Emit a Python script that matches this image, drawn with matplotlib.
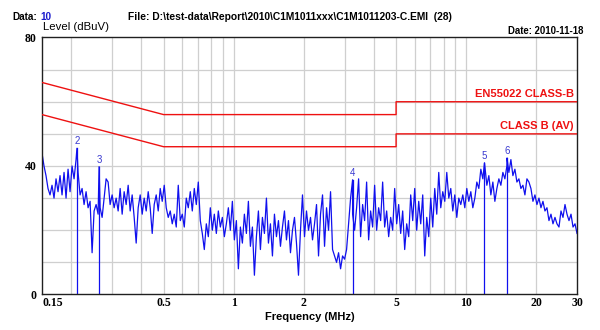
import numpy as np
import matplotlib
matplotlib.use("Agg")
import matplotlib.pyplot as plt
from matplotlib.ticker import FixedLocator, NullLocator, NullFormatter

# Scan result, level in dBuV across the 0.15-30 MHz sweep (log-spaced steps)
levels = [
    44, 40, 37, 33, 31, 34, 30, 36, 32, 37, 31, 38, 30, 39, 32, 40, 36, 42, 38, 31,
    33, 28, 32, 27, 29, 13, 26, 28, 25, 27, 24, 30, 36, 35, 28, 31, 27, 30, 26, 33,
    25, 32, 28, 34, 26, 31, 24, 16, 27, 31, 25, 30, 26, 32, 27, 19, 28, 31, 26, 33,
    29, 34, 27, 24, 26, 22, 25, 21, 34, 23, 25, 21, 30, 27, 32, 26, 33, 28, 35, 23,
    19, 14, 22, 18, 27, 20, 25, 19, 26, 21, 24, 18, 22, 27, 20, 29, 17, 23, 8, 21,
    16, 25, 19, 29, 15, 21, 6, 18, 26, 14, 24, 19, 30, 16, 22, 12, 25, 18, 23, 15,
    21, 26, 17, 23, 13, 20, 24, 16, 6, 20, 31, 18, 26, 20, 24, 17, 22, 28, 12, 25,
    31, 15, 27, 20, 32, 14, 12, 10, 13, 8, 12, 11, 14, 22, 30, 25, 20, 27, 36, 18,
    28, 23, 35, 17, 26, 21, 34, 20, 27, 23, 35, 21, 26, 18, 24, 20, 33, 22, 28, 19,
    26, 14, 22, 18, 31, 23, 33, 20, 29, 22, 31, 12, 24, 18, 30, 21, 33, 25, 38, 27,
    32, 29, 38, 30, 33, 26, 31, 24, 30, 28, 31, 27, 33, 29, 32, 27, 30, 35, 33, 39,
    36, 40, 34, 37, 31, 35, 29, 33, 36, 34, 38, 36, 40, 38, 42, 37, 39, 35, 36, 33,
    34, 31, 36, 35, 33, 29, 31, 28, 30, 27, 29, 26, 27, 23, 25, 22, 24, 22, 21, 26,
    24, 28, 25, 23, 25, 21, 22, 19,
]

# Peak markers
marker_no = [2, 3, 4, 5, 6]
marker_freq = [0.212, 0.264, 3.25, 12.0, 15.0]
marker_level = [45.5, 39.8, 35.7, 41.0, 42.5]

# EN55022 class B limits (quasi-peak and average)
qp_freq = [0.15, 0.5, 5.0, 5.0, 30.0]
qp_level = [66, 56, 56, 60, 60]
av_freq = [0.15, 0.5, 5.0, 5.0, 30.0]
av_level = [56, 46, 46, 50, 50]

x_ticks = [0.15, 0.5, 1, 2, 5, 10, 20, 30]
x_tick_labels = ["0.15", "0.5", "1", "2", "5", "10", "20", "30"]
x_grid = [0.2, 0.3, 0.4, 0.5, 0.6, 0.7, 0.8, 0.9, 1, 2, 3, 4, 5, 6, 7, 8, 9, 10, 20]
y_ticks = [0, 40, 80]

sans = ["Liberation Sans", "DejaVu Sans"]
serif = ["Liberation Serif", "DejaVu Serif"]
blue = "#1010ee"
red = "#ee1111"

freq = np.geomspace(0.15, 30.0, len(levels))
f_all = np.concatenate([freq, marker_freq])
l_all = np.concatenate([levels, marker_level])
order = np.argsort(f_all)
f_all, l_all = f_all[order], l_all[order]

fig = plt.figure(figsize=(6.0, 3.3), dpi=100)
ax = fig.add_axes([0.07, 0.1076, 0.8917, 0.7788])
ax.set_xscale("log")
ax.set_xlim(0.15, 30)
ax.set_ylim(0, 80)

for f in x_grid:
    ax.axvline(f, color="#cfcfcf", lw=0.9, zorder=0)
for y in range(10, 80, 10):
    ax.axhline(y, color="#cfcfcf", lw=0.9, zorder=0)

ax.plot(qp_freq, qp_level, color=red, lw=1.0, zorder=3)
ax.plot(av_freq, av_level, color=red, lw=1.0, zorder=3)

ax.plot(f_all, l_all, color=blue, lw=0.9, zorder=2)

for n, f, lv in zip(marker_no, marker_freq, marker_level):
    ax.plot([f, f], [0, lv], color=blue, lw=0.9, zorder=2)
    ax.text(f, lv + 0.6, str(n), color="#3a3ad0", fontsize=7, family=sans,
            ha="center", va="bottom", zorder=4)

ax.text(29.0, qp_level[-1] + 0.8, "EN55022 CLASS-B", color=red, fontsize=8,
        fontweight="bold", family=sans, ha="right", va="bottom")
ax.text(29.0, av_level[-1] + 0.8, "CLASS B (AV)", color=red, fontsize=8,
        fontweight="bold", family=sans, ha="right", va="bottom")

ax.xaxis.set_major_locator(FixedLocator(x_ticks))
ax.xaxis.set_minor_locator(NullLocator())
ax.xaxis.set_minor_formatter(NullFormatter())
ax.set_xticklabels(x_tick_labels)
ax.set_yticks(y_ticks)
ax.tick_params(axis="both", length=0, pad=2)
for lab in ax.get_xticklabels() + ax.get_yticklabels():
    lab.set_fontfamily(serif)
    lab.set_fontweight("bold")
    lab.set_fontsize(8.5)
ax.get_xticklabels()[0].set_horizontalalignment("left")
ax.tick_params(axis="y", pad=4)

for s in ax.spines.values():
    s.set_color("#202020")
    s.set_linewidth(1.0)

ax.set_xlabel("Frequency (MHz)", fontsize=8, fontweight="bold", family=sans,
              labelpad=2)

# Header line: data set number follows its label
data_lbl = fig.text(12 / 600, 1 - 17 / 330, "Data:", fontsize=7.2,
                    fontweight="bold", family=sans, va="center")
fig.add_artist(plt.Annotation("10", xy=(1, 0.5), xycoords=data_lbl,
                              xytext=(2.5, 0), textcoords="offset points",
                              fontsize=7.2, fontweight="bold", family=sans,
                              va="center", ha="left", color="#1a1acc"))
fig.text(128 / 600, 1 - 17 / 330,
         "File: D:\\test-data\\Report\\2010\\C1M1011xxx\\C1M1011203-C.EMI  (28)",
         fontsize=7.4, fontweight="bold", family=sans, va="center")
fig.text(43 / 600, 1 - 27 / 330, "Level (dBuV)", fontsize=8.2, family=sans,
         va="center")
fig.text(583 / 600, 1 - 31 / 330, "Date: 2010-11-18", fontsize=6.9,
         fontweight="bold", family=sans, va="center", ha="right")

fig.savefig("out.png", dpi=100)
